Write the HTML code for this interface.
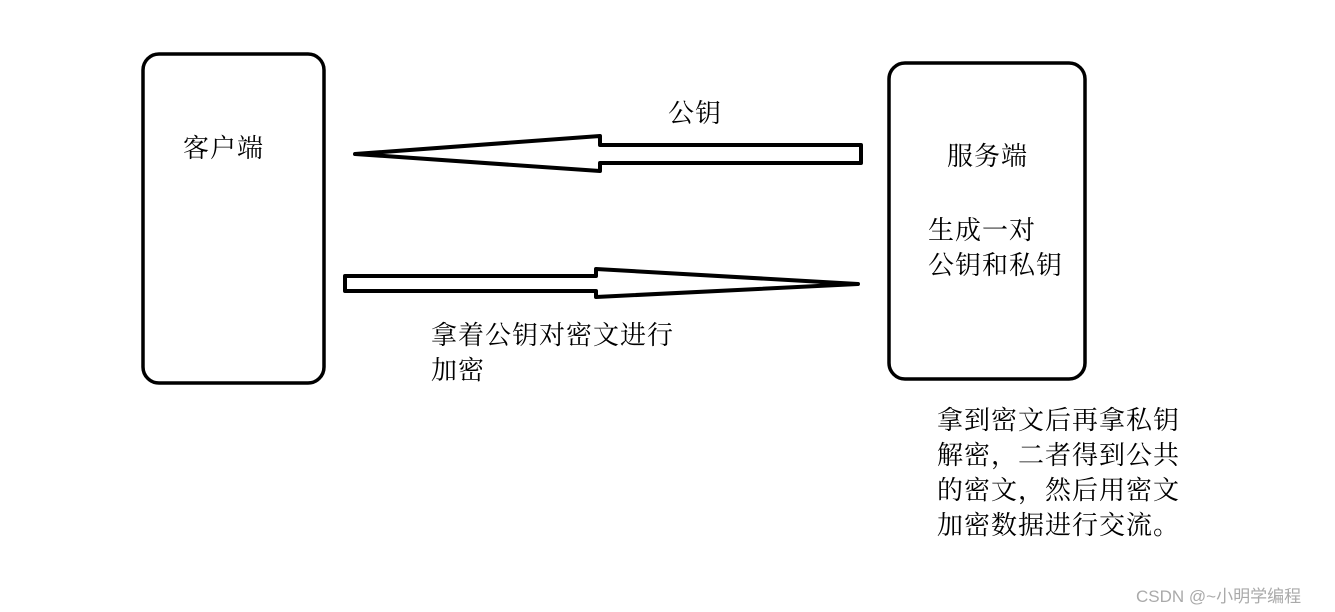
<!DOCTYPE html>
<html><head><meta charset="utf-8"><style>
body{margin:0;width:1335px;height:612px;background:#fff;position:relative;overflow:hidden}
.t{position:absolute;font-family:"Liberation Serif","Noto Serif CJK SC",serif;font-size:26px;letter-spacing:1px;color:#000;line-height:35px;white-space:nowrap}
.w{position:absolute;font-family:"Liberation Sans","Noto Sans CJK SC",sans-serif;font-size:17px;color:#aaa;white-space:nowrap}
</style></head><body>
<svg width="1335" height="612" style="position:absolute;left:0;top:0">
<rect x="143" y="54" width="181" height="329" rx="16" fill="none" stroke="#000" stroke-width="3.5"/>
<rect x="889" y="63" width="196" height="316" rx="16" fill="none" stroke="#000" stroke-width="3.5"/>
<polygon points="355,154 600,136 600,145 861,145 861,163 600,163 600,171" fill="#fff" stroke="#000" stroke-width="4" stroke-linejoin="round"/>
<polygon points="345,276 596,276 596,269 858,284 596,297 596,291 345,291" fill="#fff" stroke="#000" stroke-width="4" stroke-linejoin="round"/>
</svg>
<div class="t" style="left:183px;top:131px">客户端</div>
<div class="t" style="left:668px;top:96px">公钥</div>
<div class="t" style="left:947px;top:139px">服务端</div>
<div class="t" style="left:928px;top:213px">生成一对<br>公钥和私钥</div>
<div class="t" style="left:431px;top:318px">拿着公钥对密文进行<br>加密</div>
<div class="t" style="left:937px;top:403px">拿到密文后再拿私钥<br>解密，二者得到公共<br>的密文，然后用密文<br>加密数据进行交流。</div>
<div class="w" style="left:1136px;top:582px">CSDN @~小明学编程</div>
</body></html>
